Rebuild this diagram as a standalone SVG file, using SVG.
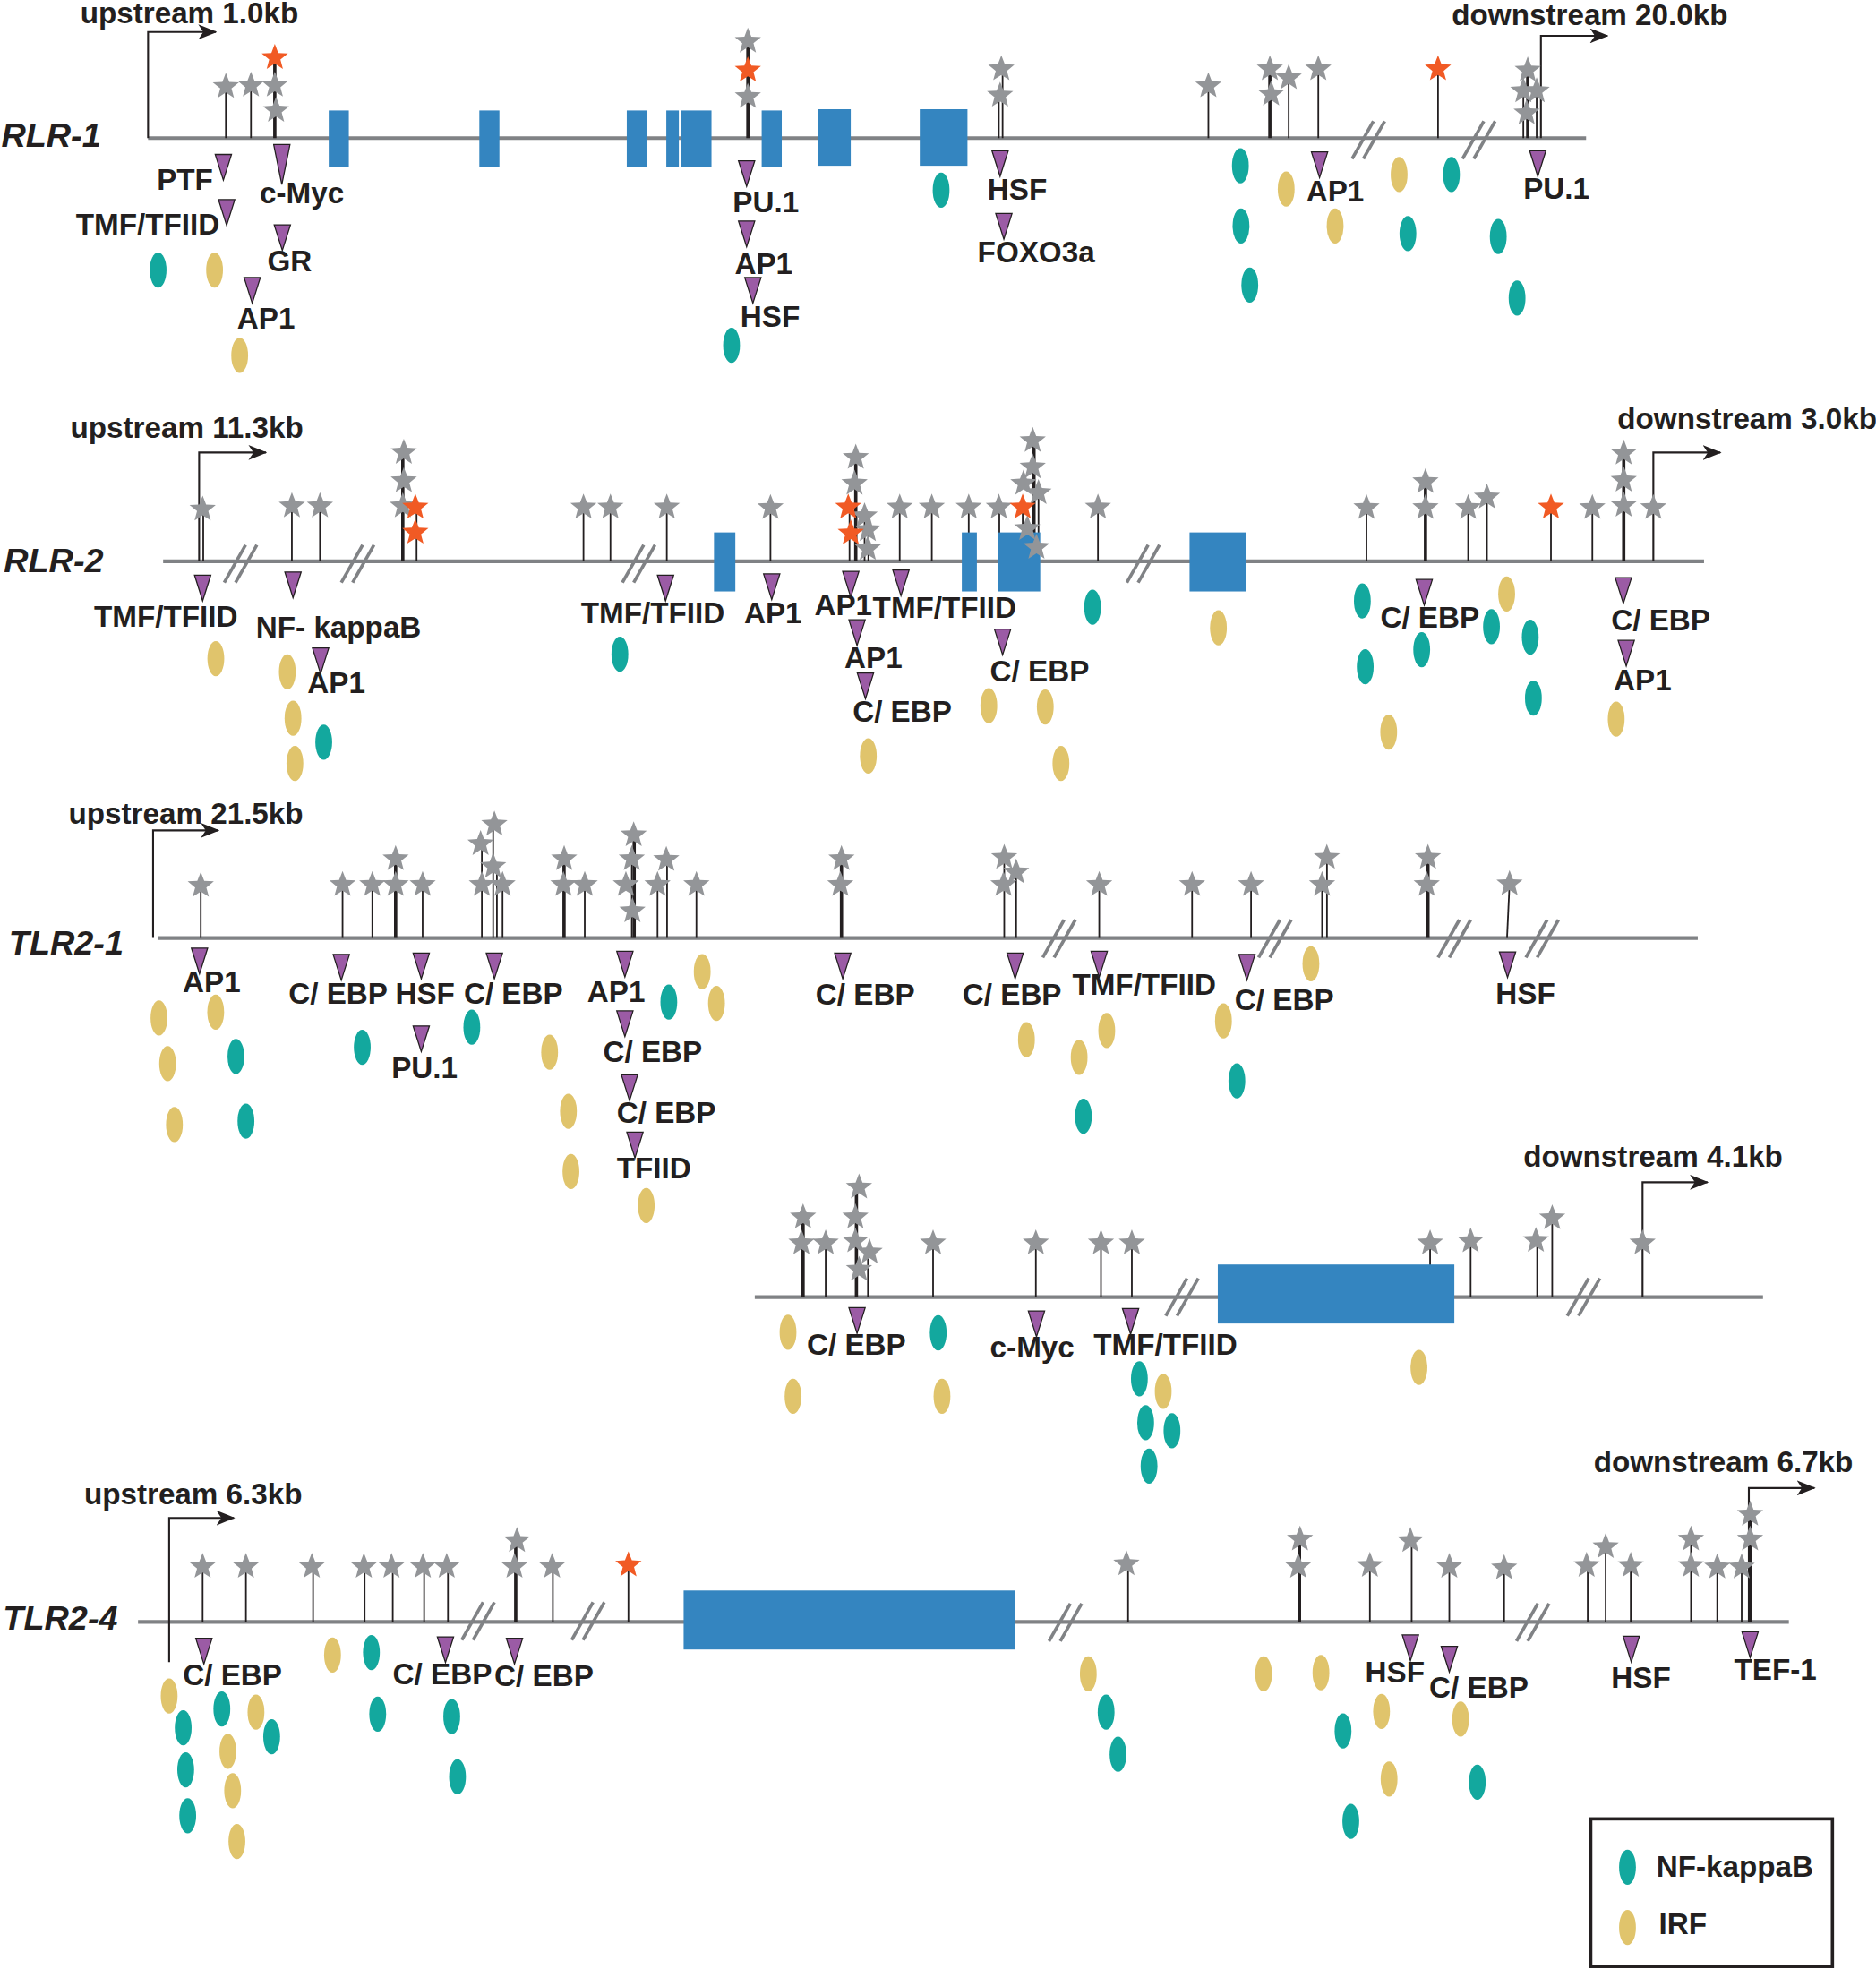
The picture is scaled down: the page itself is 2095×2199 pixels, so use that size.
<svg xmlns="http://www.w3.org/2000/svg" width="2095" height="2199" viewBox="0 0 2095 2199">
<defs>
<style>
.bb{stroke:#808285;stroke-width:3;fill:none}
.st line{stroke:#231f20;stroke-width:1.3}
.st line.k{stroke-width:2.6}
.ex rect{fill:#3485c0}
.s{fill:#939598}
.o{fill:#f15a24}
.t{font-family:"Liberation Sans",Arial,Helvetica,sans-serif;font-weight:bold;font-size:23.7px;fill:#231f20}
.g{font-family:"Liberation Sans",Arial,Helvetica,sans-serif;font-weight:bold;font-style:italic;font-size:27px;fill:#231f20}
.tss{stroke:#231f20;stroke-width:1.5;fill:none;marker-end:url(#ah)}
</style>
<path id="star" d="M0,-11 L2.76,-3.8 L10.46,-3.4 L4.47,1.45 L6.47,8.9 L0,4.7 L-6.47,8.9 L-4.47,1.45 L-10.46,-3.4 L-2.76,-3.8 Z"/>
<path id="tri" d="M-6.5,0 L6.5,0 L0,20.5 Z" fill="#9b5ba5" stroke="#231f20" stroke-width="0.9"/>
<ellipse id="nf" rx="6.7" ry="14" fill="#13a89e"/>
<ellipse id="irf" rx="6.7" ry="14" fill="#e0c46c"/>
<g id="brk" stroke="#808285" stroke-width="2.6"><line x1="-13" y1="15" x2="4" y2="-15"/><line x1="-4" y1="15" x2="13" y2="-15"/></g>
<marker id="ah" markerUnits="userSpaceOnUse" markerWidth="15" markerHeight="12" refX="14" refY="6" orient="auto" viewBox="0 0 15 12"><path d="M0,0 L15,6 L0,12 L4,6 Z" fill="#231f20"/></marker>
</defs>
<rect width="2095" height="2199" fill="#ffffff"/>
<g transform="scale(1.4013,1.4024)">

<g id="backbones">
<line class="bb" x1="118" y1="110" x2="1264" y2="110"/>
<line class="bb" x1="130" y1="447" x2="1358" y2="447"/>
<line class="bb" x1="125.6" y1="747" x2="1353" y2="747"/>
<line class="bb" x1="601.5" y1="1033" x2="1405" y2="1033"/>
<line class="bb" x1="110" y1="1291.6" x2="1425.6" y2="1291.6"/>
<use href="#brk" x="1090.5" y="111.5"/><use href="#brk" x="1178.5" y="111.5"/>
<use href="#brk" x="191.7" y="449"/><use href="#brk" x="285" y="449"/><use href="#brk" x="509" y="449"/><use href="#brk" x="911" y="449"/>
<use href="#brk" x="844" y="747.5"/><use href="#brk" x="1016" y="747.5"/><use href="#brk" x="1159" y="747.5"/><use href="#brk" x="1229" y="747.5"/>
<use href="#brk" x="942" y="1033"/><use href="#brk" x="1262" y="1033"/>
<use href="#brk" x="381" y="1291"/><use href="#brk" x="468.6" y="1291"/><use href="#brk" x="849" y="1292"/><use href="#brk" x="1221.5" y="1292"/>
</g>

<g id="connectors" class="st">
<line x1="180" y1="110" x2="180" y2="69"/><line x1="200" y1="110" x2="200" y2="68"/>
<line class="k" x1="219" y1="110" x2="219" y2="46"/><line class="k" x1="596" y1="110" x2="596" y2="33"/>
<line x1="796" y1="110" x2="796" y2="76"/><line x1="799" y1="110" x2="799" y2="55"/>
<line x1="963" y1="110" x2="963" y2="68.5"/><line class="k" x1="1012" y1="110" x2="1012" y2="55"/>
<line x1="1027" y1="110" x2="1027" y2="62"/><line x1="1050.6" y1="110" x2="1050.6" y2="55"/>
<line x1="1146" y1="110" x2="1146" y2="55"/><line x1="1214" y1="110" x2="1214" y2="72"/>
<line class="k" x1="1217.5" y1="110" x2="1217.5" y2="56"/><line x1="1224.6" y1="110" x2="1224.6" y2="72"/>
<path class="tss" d="M118,110 V25.5 H172"/><path class="tss" d="M1228,110 V28.5 H1281"/>
<line x1="162" y1="447" x2="162" y2="405.6"/><line x1="232.6" y1="447" x2="232.6" y2="403"/>
<line x1="255" y1="447" x2="255" y2="403"/><line class="k" x1="321" y1="447" x2="321" y2="360.4"/>
<line x1="332" y1="447" x2="332" y2="404"/><line x1="465" y1="447" x2="465" y2="404"/>
<line x1="486.5" y1="447" x2="486.5" y2="404"/><line x1="531.4" y1="447" x2="531.4" y2="404"/>
<line x1="614" y1="447" x2="614" y2="404"/><line x1="677" y1="447" x2="677" y2="404"/>
<line class="k" x1="682" y1="447" x2="682" y2="364.4"/><line x1="689" y1="447" x2="689" y2="411"/>
<line x1="692" y1="447" x2="692" y2="422"/><line x1="717" y1="447" x2="717" y2="404"/>
<line x1="742.6" y1="447" x2="742.6" y2="404"/><line x1="772" y1="447" x2="772" y2="404"/>
<line x1="796.4" y1="447" x2="796.4" y2="404"/><line x1="815" y1="447" x2="815" y2="404"/>
<line class="k" x1="824" y1="447" x2="824" y2="351"/><line x1="827.6" y1="447" x2="827.6" y2="392"/>
<line x1="875" y1="447" x2="875" y2="404"/><line x1="1089" y1="447" x2="1089" y2="404"/>
<line class="k" x1="1136" y1="447" x2="1136" y2="383.7"/><line x1="1170" y1="447" x2="1170" y2="404"/>
<line x1="1185" y1="447" x2="1185" y2="396"/><line x1="1236" y1="447" x2="1236" y2="404"/>
<line x1="1269" y1="447" x2="1269" y2="404"/><line class="k" x1="1294" y1="447" x2="1294" y2="361"/>
<path class="tss" d="M158.7,447 V360.4 H212"/><path class="tss" d="M1317.6,447 V360.4 H1371"/>
<line x1="160" y1="747" x2="160" y2="705"/><line x1="273" y1="747" x2="273" y2="704.6"/>
<line x1="296.7" y1="747" x2="296.7" y2="704.6"/><line class="k" x1="315.3" y1="747" x2="315.3" y2="684"/>
<line x1="336.8" y1="747" x2="336.8" y2="704.6"/><line x1="384" y1="747" x2="384" y2="672"/>
<line x1="393" y1="747" x2="393" y2="656.5"/><line x1="396" y1="747" x2="396" y2="690"/>
<line x1="400.5" y1="747" x2="400.5" y2="704.6"/><line class="k" x1="449.5" y1="747" x2="449.5" y2="684"/>
<line x1="466" y1="747" x2="466" y2="704.6"/><line x1="503.5" y1="747" x2="503.5" y2="684"/>
<line class="k" x1="505.4" y1="747" x2="505.4" y2="665"/><line x1="524" y1="747" x2="524" y2="704.6"/>
<line x1="531.6" y1="747" x2="531.6" y2="684.6"/><line x1="555" y1="747" x2="555" y2="704.6"/>
<line class="k" x1="670.6" y1="747" x2="670.6" y2="684"/><line x1="800.3" y1="747" x2="800.3" y2="683"/>
<line x1="809.8" y1="747" x2="809.8" y2="694.6"/><line x1="876" y1="747" x2="876" y2="704.6"/>
<line x1="950" y1="747" x2="950" y2="704.6"/><line x1="997" y1="747" x2="997" y2="704.6"/>
<line x1="1053.6" y1="747" x2="1053.6" y2="704.6"/><line x1="1057.5" y1="747" x2="1057.5" y2="683"/>
<line class="k" x1="1138" y1="747" x2="1138" y2="683"/><line x1="1201" y1="747" x2="1203" y2="704"/>
<path class="tss" d="M122,747 V661.3 H174"/>
<line class="k" x1="640" y1="1033" x2="640" y2="969.3"/><line x1="658" y1="1033" x2="658" y2="990"/>
<line class="k" x1="682.5" y1="1033" x2="682.5" y2="945.5"/><line x1="691.7" y1="1033" x2="691.7" y2="997"/>
<line x1="743.6" y1="1033" x2="743.6" y2="990"/><line x1="825.5" y1="1033" x2="825.5" y2="990"/>
<line x1="877.4" y1="1033" x2="877.4" y2="990"/><line x1="902" y1="1033" x2="902" y2="990"/>
<line x1="1139.7" y1="1033" x2="1139.7" y2="990"/><line x1="1172" y1="1033" x2="1172" y2="988.4"/>
<line x1="1225" y1="1033" x2="1225" y2="988"/><line x1="1237" y1="1033" x2="1237" y2="970"/>
<path class="tss" d="M1309,1033 V941.5 H1360.7"/>
<line x1="161.5" y1="1291.6" x2="161.5" y2="1247.6"/><line x1="196" y1="1291.6" x2="196" y2="1247.6"/>
<line x1="249.5" y1="1291.6" x2="249.5" y2="1247.6"/><line x1="290.6" y1="1291.6" x2="290.6" y2="1247.6"/>
<line x1="313" y1="1291.6" x2="313" y2="1247.6"/><line x1="338" y1="1291.6" x2="338" y2="1247.6"/>
<line x1="357" y1="1291.6" x2="357" y2="1247.6"/><line class="k" x1="411" y1="1291.6" x2="411" y2="1227"/>
<line x1="440.6" y1="1291.6" x2="440.6" y2="1247.6"/><line x1="500.8" y1="1291.6" x2="500.8" y2="1246.4"/>
<line x1="899" y1="1291.6" x2="899" y2="1245.5"/><line class="k" x1="1035.6" y1="1291.6" x2="1035.6" y2="1225.8"/>
<line x1="1091.7" y1="1291.6" x2="1091.7" y2="1246.8"/><line x1="1125" y1="1291.6" x2="1125" y2="1227"/>
<line x1="1155" y1="1291.6" x2="1155" y2="1247.6"/><line x1="1198.7" y1="1291.6" x2="1198.7" y2="1248.7"/>
<line x1="1265.3" y1="1291.6" x2="1265.3" y2="1246.8"/><line x1="1279.6" y1="1291.6" x2="1279.6" y2="1231.8"/>
<line x1="1299.6" y1="1291.6" x2="1299.6" y2="1246.8"/><line x1="1347.6" y1="1291.6" x2="1347.6" y2="1225.8"/>
<line x1="1368.5" y1="1291.6" x2="1368.5" y2="1248"/><line x1="1388" y1="1291.6" x2="1388" y2="1248"/>
<line class="k" x1="1394.7" y1="1291.6" x2="1394.7" y2="1206"/>
<path class="tss" d="M134.8,1323.7 V1208.8 H186.4"/><path class="tss" d="M1393.7,1291.6 V1185 H1446"/>
</g>

<g id="exons" class="ex">
<rect x="262" y="88" width="16" height="45"/><rect x="382" y="88" width="16" height="45"/>
<rect x="499.5" y="88" width="16" height="45"/><rect x="531" y="88" width="10" height="45"/>
<rect x="542.5" y="88" width="24.5" height="45"/><rect x="607" y="88" width="16" height="45"/>
<rect x="652" y="87" width="26" height="45"/><rect x="733" y="87" width="38" height="45"/>
<rect x="569" y="424" width="17" height="47"/><rect x="766.5" y="424" width="12" height="47"/>
<rect x="795" y="424" width="34" height="47"/><rect x="948" y="424" width="45" height="47"/>
<rect x="970.5" y="1007" width="188.5" height="47"/>
<rect x="544.8" y="1266.6" width="263.9" height="47"/>
</g>

<g id="sites">
<use href="#star" class="s" x="180" y="69"/><use href="#star" class="s" x="200" y="68"/><use href="#star" class="s" x="219" y="68"/><use href="#star" class="s" x="220" y="88"/>
<use href="#star" class="s" x="596" y="33"/><use href="#star" class="s" x="596" y="77"/><use href="#star" class="s" x="798" y="55"/><use href="#star" class="s" x="797" y="76"/>
<use href="#star" class="s" x="963" y="68.5"/><use href="#star" class="s" x="1012" y="55"/><use href="#star" class="s" x="1013" y="75"/><use href="#star" class="s" x="1027" y="62"/>
<use href="#star" class="s" x="1050.6" y="55"/><use href="#star" class="s" x="1217.5" y="56"/><use href="#star" class="s" x="1214" y="72.5"/><use href="#star" class="s" x="1224.6" y="72.5"/><use href="#star" class="s" x="1216.6" y="90"/>
<use href="#star" class="o" x="219" y="46"/><use href="#star" class="o" x="596" y="56"/><use href="#star" class="o" x="1146" y="55"/>

<use href="#star" class="s" x="161.5" y="405.6"/><use href="#star" class="s" x="232.6" y="403"/><use href="#star" class="s" x="255" y="403"/>
<use href="#star" class="s" x="321.8" y="360.4"/><use href="#star" class="s" x="321.8" y="383"/><use href="#star" class="s" x="321" y="403"/>
<use href="#star" class="s" x="465" y="404"/><use href="#star" class="s" x="486.5" y="404"/><use href="#star" class="s" x="531.4" y="404"/><use href="#star" class="s" x="614" y="404.4"/>
<use href="#star" class="s" x="682" y="364.4"/><use href="#star" class="s" x="681" y="385"/><use href="#star" class="s" x="689" y="411"/><use href="#star" class="s" x="691.6" y="422"/><use href="#star" class="s" x="691.6" y="437"/>
<use href="#star" class="s" x="717" y="404"/><use href="#star" class="s" x="742.6" y="404"/><use href="#star" class="s" x="772" y="404"/><use href="#star" class="s" x="796" y="404"/>
<use href="#star" class="s" x="823" y="351"/><use href="#star" class="s" x="823" y="372"/><use href="#star" class="s" x="815.6" y="385"/><use href="#star" class="s" x="827.6" y="392.5"/><use href="#star" class="s" x="818.7" y="421"/><use href="#star" class="s" x="826" y="436"/>
<use href="#star" class="s" x="875" y="404"/><use href="#star" class="s" x="1089" y="404.4"/><use href="#star" class="s" x="1136" y="383.7"/><use href="#star" class="s" x="1136" y="404.4"/>
<use href="#star" class="s" x="1170" y="404.4"/><use href="#star" class="s" x="1185" y="396"/><use href="#star" class="s" x="1269" y="404.4"/>
<use href="#star" class="s" x="1294" y="361"/><use href="#star" class="s" x="1294" y="382.5"/><use href="#star" class="s" x="1294" y="402.5"/><use href="#star" class="s" x="1317.6" y="404.4"/>
<use href="#star" class="o" x="331" y="404"/><use href="#star" class="o" x="331" y="424"/><use href="#star" class="o" x="676" y="404"/><use href="#star" class="o" x="678" y="424.6"/><use href="#star" class="o" x="815" y="404"/><use href="#star" class="o" x="1236" y="404"/>

<use href="#star" class="s" x="160" y="705.3"/><use href="#star" class="s" x="273" y="704.6"/><use href="#star" class="s" x="296.7" y="704.6"/><use href="#star" class="s" x="315.3" y="684"/><use href="#star" class="s" x="315.3" y="704.6"/>
<use href="#star" class="s" x="336.8" y="704.6"/><use href="#star" class="s" x="383" y="672"/><use href="#star" class="s" x="394" y="656.5"/><use href="#star" class="s" x="393" y="690"/><use href="#star" class="s" x="384" y="704.6"/><use href="#star" class="s" x="400.5" y="704.6"/>
<use href="#star" class="s" x="449.6" y="684"/><use href="#star" class="s" x="449" y="704.6"/><use href="#star" class="s" x="466" y="704.6"/>
<use href="#star" class="s" x="505" y="665"/><use href="#star" class="s" x="503.5" y="684"/><use href="#star" class="s" x="498.8" y="704.6"/><use href="#star" class="s" x="504" y="725.5"/>
<use href="#star" class="s" x="531" y="684.6"/><use href="#star" class="s" x="524" y="704.6"/><use href="#star" class="s" x="555" y="704.6"/>
<use href="#star" class="s" x="670.6" y="684"/><use href="#star" class="s" x="669.7" y="704.6"/><use href="#star" class="s" x="800.3" y="683"/><use href="#star" class="s" x="809.8" y="694.6"/><use href="#star" class="s" x="799.7" y="704.6"/>
<use href="#star" class="s" x="876" y="704.6"/><use href="#star" class="s" x="950" y="704.6"/><use href="#star" class="s" x="997" y="704.6"/>
<use href="#star" class="s" x="1057.4" y="683"/><use href="#star" class="s" x="1053.6" y="704.6"/><use href="#star" class="s" x="1138" y="683"/><use href="#star" class="s" x="1137" y="704.6"/><use href="#star" class="s" x="1203" y="704"/>

<use href="#star" class="s" x="640" y="969.3"/><use href="#star" class="s" x="638.7" y="990"/><use href="#star" class="s" x="658" y="990"/>
<use href="#star" class="s" x="684.6" y="945.5"/><use href="#star" class="s" x="681.7" y="969.3"/><use href="#star" class="s" x="681.7" y="988.4"/><use href="#star" class="s" x="693" y="997.2"/><use href="#star" class="s" x="684.6" y="1011"/>
<use href="#star" class="s" x="743.6" y="990"/><use href="#star" class="s" x="825.5" y="990"/><use href="#star" class="s" x="877.4" y="990"/><use href="#star" class="s" x="902" y="990"/>
<use href="#star" class="s" x="1139.7" y="990"/><use href="#star" class="s" x="1172" y="988.4"/><use href="#star" class="s" x="1224" y="988"/><use href="#star" class="s" x="1237" y="970"/><use href="#star" class="s" x="1309" y="990"/>

<use href="#star" class="s" x="161.5" y="1247.6"/><use href="#star" class="s" x="196" y="1247.6"/><use href="#star" class="s" x="248.5" y="1247.6"/><use href="#star" class="s" x="290" y="1247.6"/>
<use href="#star" class="s" x="312" y="1247.6"/><use href="#star" class="s" x="337" y="1247.6"/><use href="#star" class="s" x="356" y="1247.6"/><use href="#star" class="s" x="410" y="1247.6"/>
<use href="#star" class="s" x="412" y="1227"/><use href="#star" class="s" x="440" y="1247.6"/><use href="#star" class="o" x="500.8" y="1246.4"/>
<use href="#star" class="s" x="897.7" y="1245.5"/><use href="#star" class="s" x="1036" y="1225.8"/><use href="#star" class="s" x="1034.6" y="1247.6"/><use href="#star" class="s" x="1091.7" y="1246.8"/>
<use href="#star" class="s" x="1124" y="1227"/><use href="#star" class="s" x="1155" y="1247.6"/><use href="#star" class="s" x="1198.7" y="1248.7"/><use href="#star" class="s" x="1264.4" y="1246.8"/>
<use href="#star" class="s" x="1279.6" y="1231.8"/><use href="#star" class="s" x="1299.6" y="1246.8"/><use href="#star" class="s" x="1347.6" y="1225.8"/><use href="#star" class="s" x="1347.6" y="1246.8"/>
<use href="#star" class="s" x="1368.5" y="1248"/><use href="#star" class="s" x="1388" y="1248"/><use href="#star" class="s" x="1394.7" y="1206"/><use href="#star" class="s" x="1394.7" y="1225.8"/>
</g>

<g id="tf-markers">
<use href="#tri" x="178" y="123"/><use href="#tri" x="180.6" y="159"/><polygon points="218.1,115 231.1,115 224.6,147" fill="#9b5ba5" stroke="#231f20" stroke-width="0.9"/>
<use href="#tri" x="225" y="179"/><use href="#tri" x="201" y="221"/><use href="#tri" x="595" y="128"/><use href="#tri" x="595" y="176"/>
<use href="#tri" x="600" y="221"/><use href="#tri" x="797" y="120"/><use href="#tri" x="800" y="170"/><use href="#tri" x="1051.6" y="121"/><use href="#tri" x="1225.5" y="120"/>
<use href="#tri" x="161.5" y="458"/><use href="#tri" x="233.5" y="455.5"/><use href="#tri" x="255.5" y="516"/><use href="#tri" x="530.4" y="458"/>
<use href="#tri" x="615" y="457"/><use href="#tri" x="678" y="455"/><use href="#tri" x="718" y="454"/><use href="#tri" x="683" y="493.6"/>
<use href="#tri" x="689.7" y="536"/><use href="#tri" x="799" y="501"/><use href="#tri" x="1135" y="461.5"/><use href="#tri" x="1293.7" y="460"/><use href="#tri" x="1296" y="510"/>
<use href="#tri" x="159" y="755"/><use href="#tri" x="272" y="760"/><use href="#tri" x="335.7" y="759"/><use href="#tri" x="394" y="759"/>
<use href="#tri" x="335.7" y="817"/><use href="#tri" x="498" y="757.6"/><use href="#tri" x="498" y="805"/><use href="#tri" x="501.7" y="856"/>
<use href="#tri" x="506" y="901.6"/><use href="#tri" x="671.6" y="759"/><use href="#tri" x="809" y="759"/><use href="#tri" x="876" y="757.6"/>
<use href="#tri" x="993.7" y="760"/><use href="#tri" x="1201.4" y="758"/>
<use href="#tri" x="683" y="1041.4"/><use href="#tri" x="826" y="1044"/><use href="#tri" x="901" y="1042"/>
<use href="#tri" x="162.5" y="1304.7"/><use href="#tri" x="355" y="1303.5"/><use href="#tri" x="410" y="1304.7"/>
<use href="#tri" x="1124" y="1302"/><use href="#tri" x="1155" y="1311"/><use href="#tri" x="1300" y="1303"/><use href="#tri" x="1394.7" y="1299.5"/>
</g>

<g id="tf-labels" class="t">
<text x="125" y="151">PTF</text><text x="60.5" y="187">TMF/TFIID</text><text x="207" y="162">c-Myc</text>
<text x="213" y="216">GR</text><text x="189" y="262">AP1</text><text x="584" y="169">PU.1</text>
<text x="585.5" y="218">AP1</text><text x="590" y="260">HSF</text><text x="787" y="159">HSF</text>
<text x="779" y="209">FOXO3a</text><text x="1041" y="160.6">AP1</text><text x="1214" y="158">PU.1</text>

<text x="75" y="499">TMF/TFIID</text><text x="204" y="508">NF- kappaB</text><text x="245" y="552">AP1</text>
<text x="463" y="496">TMF/TFIID</text><text x="593" y="496">AP1</text><text x="649" y="490">AP1</text>
<text x="695.5" y="492">TMF/TFIID</text><text x="673" y="532">AP1</text><text x="679.5" y="574.5">C/ EBP</text>
<text x="789" y="542.4">C/ EBP</text><text x="1100" y="499.6">C/ EBP</text><text x="1284" y="502">C/ EBP</text><text x="1286" y="549.5">AP1</text>

<text x="145.6" y="790">AP1</text><text x="230" y="799">C/ EBP</text><text x="315" y="799">HSF</text>
<text x="369.6" y="799">C/ EBP</text><text x="312" y="858.8">PU.1</text><text x="468" y="798">AP1</text>
<text x="480.6" y="845.7">C/ EBP</text><text x="491.5" y="894">C/ EBP</text><text x="491.5" y="938.5">TFIID</text>
<text x="650" y="799.8">C/ EBP</text><text x="767" y="799.8">C/ EBP</text><text x="854.5" y="792">TMF/TFIID</text>
<text x="984" y="804">C/ EBP</text><text x="1192" y="799">HSF</text>

<text x="643" y="1079">C/ EBP</text><text x="789" y="1081">c-Myc</text><text x="871.5" y="1079">TMF/TFIID</text>

<text x="145.8" y="1342.3">C/ EBP</text><text x="313" y="1341.6">C/ EBP</text><text x="394" y="1342.8">C/ EBP</text>
<text x="1088" y="1339.8">HSF</text><text x="1139" y="1352">C/ EBP</text><text x="1284" y="1344">HSF</text><text x="1382" y="1338">TEF-1</text>
</g>

<g id="binding-sites">
<use href="#nf" x="126" y="215"/><use href="#irf" x="171" y="215"/><use href="#irf" x="191" y="283"/><use href="#nf" x="583" y="275"/>
<use href="#nf" x="750" y="151.5"/><use href="#nf" x="988.5" y="132"/><use href="#nf" x="989" y="180"/><use href="#nf" x="996" y="227"/>
<use href="#irf" x="1025" y="150.6"/><use href="#irf" x="1064" y="180"/><use href="#irf" x="1115" y="139"/><use href="#nf" x="1156.7" y="139"/>
<use href="#nf" x="1122" y="186"/><use href="#nf" x="1194" y="188.4"/><use href="#nf" x="1209" y="237.4"/>

<use href="#irf" x="172" y="524.5"/><use href="#irf" x="229" y="535"/><use href="#irf" x="233.5" y="572"/><use href="#irf" x="235" y="608"/>
<use href="#nf" x="258" y="591"/><use href="#nf" x="494" y="521"/><use href="#nf" x="870.7" y="483.6"/><use href="#irf" x="971" y="500"/>
<use href="#irf" x="788" y="562"/><use href="#irf" x="833" y="563"/><use href="#irf" x="845.5" y="608"/><use href="#irf" x="692" y="602"/>
<use href="#nf" x="1085.7" y="478.6"/><use href="#nf" x="1088" y="531"/><use href="#nf" x="1133" y="517.4"/><use href="#irf" x="1200.7" y="473"/>
<use href="#nf" x="1188.6" y="499"/><use href="#nf" x="1219.5" y="507.4"/><use href="#nf" x="1222" y="556"/><use href="#irf" x="1106.7" y="583"/><use href="#irf" x="1288" y="572.6"/>

<use href="#irf" x="126.7" y="810.7"/><use href="#irf" x="171.9" y="806"/><use href="#irf" x="133.6" y="847"/><use href="#nf" x="188" y="841.4"/>
<use href="#irf" x="139" y="895.6"/><use href="#nf" x="196" y="892.8"/><use href="#nf" x="288.7" y="834"/><use href="#nf" x="376" y="818"/>
<use href="#irf" x="438" y="838"/><use href="#irf" x="453" y="885"/><use href="#irf" x="455" y="933"/><use href="#nf" x="533" y="798"/>
<use href="#irf" x="559.6" y="773.8"/><use href="#irf" x="571" y="799"/><use href="#irf" x="515" y="960"/><use href="#irf" x="818" y="828"/>
<use href="#irf" x="860" y="842"/><use href="#irf" x="882" y="820.7"/><use href="#irf" x="975" y="813"/><use href="#nf" x="863.4" y="889"/>
<use href="#nf" x="985.7" y="860.7"/><use href="#irf" x="1044.7" y="767.6"/>

<use href="#irf" x="628" y="1061"/><use href="#nf" x="747.7" y="1061.4"/><use href="#irf" x="632" y="1112"/><use href="#irf" x="750.7" y="1112"/>
<use href="#nf" x="908" y="1098"/><use href="#irf" x="927" y="1108"/><use href="#nf" x="913" y="1133"/><use href="#nf" x="934" y="1139.4"/>
<use href="#nf" x="915.7" y="1167.5"/><use href="#irf" x="1130.8" y="1089"/>

<use href="#irf" x="134.8" y="1350.6"/><use href="#nf" x="146" y="1376"/><use href="#nf" x="148" y="1409.4"/><use href="#nf" x="149.6" y="1446"/>
<use href="#nf" x="176.8" y="1361"/><use href="#irf" x="204" y="1363.5"/><use href="#irf" x="181.6" y="1394.6"/><use href="#irf" x="185.4" y="1426"/>
<use href="#irf" x="188.8" y="1466.5"/><use href="#nf" x="216.5" y="1383"/><use href="#irf" x="265" y="1318"/><use href="#nf" x="296" y="1316"/>
<use href="#nf" x="301" y="1365"/><use href="#nf" x="360" y="1367"/><use href="#nf" x="364.6" y="1415"/>
<use href="#irf" x="867.3" y="1333"/><use href="#nf" x="881.5" y="1363.5"/><use href="#nf" x="891" y="1397"/><use href="#irf" x="1007" y="1333"/>
<use href="#irf" x="1052.7" y="1332"/><use href="#irf" x="1101" y="1363"/><use href="#nf" x="1070.3" y="1378.5"/><use href="#irf" x="1107" y="1416.7"/>
<use href="#nf" x="1076.5" y="1450.4"/><use href="#irf" x="1164" y="1369"/><use href="#nf" x="1177.3" y="1419.3"/>
</g>

<g id="gene-names" class="g">
<text x="1" y="116.6">RLR-1</text><text x="3" y="455.5">RLR-2</text><text x="7" y="760">TLR2-1</text><text x="2.4" y="1298">TLR2-4</text>
</g>
<g id="region-labels" class="t">
<text x="64" y="18.8">upstream 1.0kb</text><text x="1157" y="20">downstream 20.0kb</text>
<text x="56" y="348.5">upstream 11.3kb</text><text x="1289" y="341.4">downstream 3.0kb</text>
<text x="54.6" y="656">upstream 21.5kb</text><text x="1214" y="929">downstream 4.1kb</text>
<text x="67" y="1198.3">upstream 6.3kb</text><text x="1270" y="1172.3">downstream 6.7kb</text>
</g>

<g id="legend">
<rect x="1267.7" y="1448.5" width="192.6" height="117.5" fill="none" stroke="#231f20" stroke-width="2.6"/>
<use href="#nf" x="1297" y="1487"/><text class="t" x="1320" y="1494.4">NF-kappaB</text>
<use href="#irf" x="1297" y="1535"/><text class="t" x="1322" y="1540">IRF</text>
</g>
</g>
</svg>
